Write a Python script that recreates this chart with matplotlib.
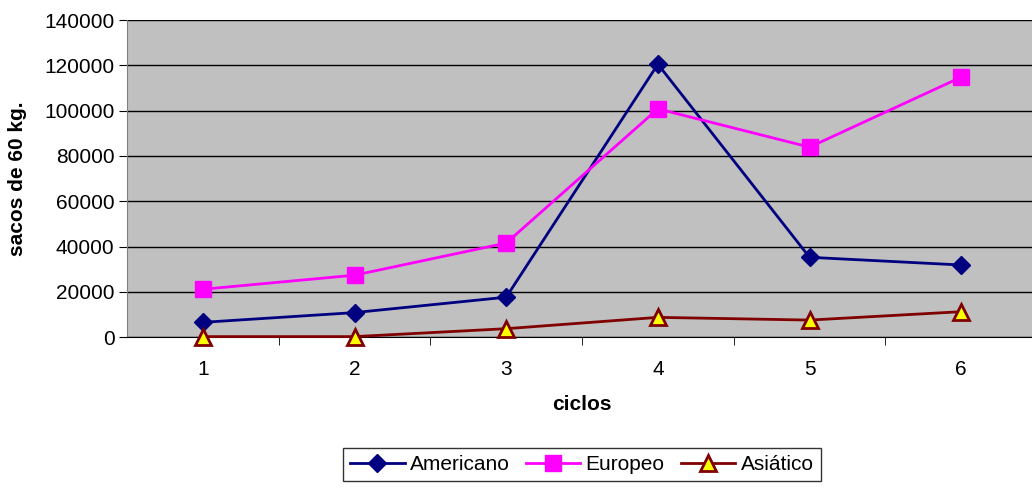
import matplotlib.pyplot as plt

plt.rcParams['font.family'] = ['Liberation Sans', 'DejaVu Sans']

ciclos = [1, 2, 3, 4, 5, 6]
americano = [6600, 10900, 17700, 120500, 35300, 31900]
europeo = [21200, 27400, 41600, 100800, 83900, 114800]
asiatico = [300, 300, 3800, 8800, 7600, 11300]

fig = plt.figure(figsize=(10.32, 4.87), dpi=100)
ax = fig.add_axes([0.1231, 0.3074, 0.8818, 0.6515])
ax.set_facecolor('#C0C0C0')

ax.plot(ciclos, americano, color='#000080', lw=2, marker='D', ms=9,
        mfc='#000080', mec='#000080', label='Americano', zorder=3)
ax.plot(ciclos, europeo, color='#FF00FF', lw=2, marker='s', ms=11,
        mfc='#FF00FF', mec='#FF00FF', label='Europeo', zorder=3)
ax.plot(ciclos, asiatico, color='#800000', lw=2, marker='^', ms=11,
        mfc='#FFFF00', mec='#800000', mew=2, label='Asiático', zorder=4,
        clip_on=False)

ax.set_xlim(0.5, 6.5)
ax.set_ylim(0, 140000)
ax.set_yticks(range(0, 140001, 20000))
ax.yaxis.grid(True, color='black', lw=1)
ax.set_axisbelow(True)

ax.set_xticks(ciclos)
ax.set_xticks([1.5, 2.5, 3.5, 4.5, 5.5], minor=True)
ax.tick_params(axis='x', which='major', length=0, pad=16, labelsize=15)
ax.tick_params(axis='x', which='minor', length=6, direction='out', color='black')
ax.tick_params(axis='y', length=6, direction='out', labelsize=15, pad=3)

for s in ['top', 'right']:
    ax.spines[s].set_visible(False)
ax.spines['left'].set_color('#808080')
ax.spines['bottom'].set_color('black')

ax.set_xlabel('ciclos', fontsize=15, fontweight='bold', labelpad=12)
ax.set_ylabel('sacos de 60 kg.', fontsize=15, fontweight='bold', labelpad=12)

leg = fig.legend(loc='center', bbox_to_anchor=(582 / 1032, 1 - 464.5 / 487),
                 ncol=3, fontsize=15, frameon=True, fancybox=False,
                 edgecolor='black', handlelength=2.6, columnspacing=0.8,
                 handletextpad=0.25, borderpad=0.35)
leg.get_frame().set_linewidth(1)

fig.savefig('out.png', dpi=100)
